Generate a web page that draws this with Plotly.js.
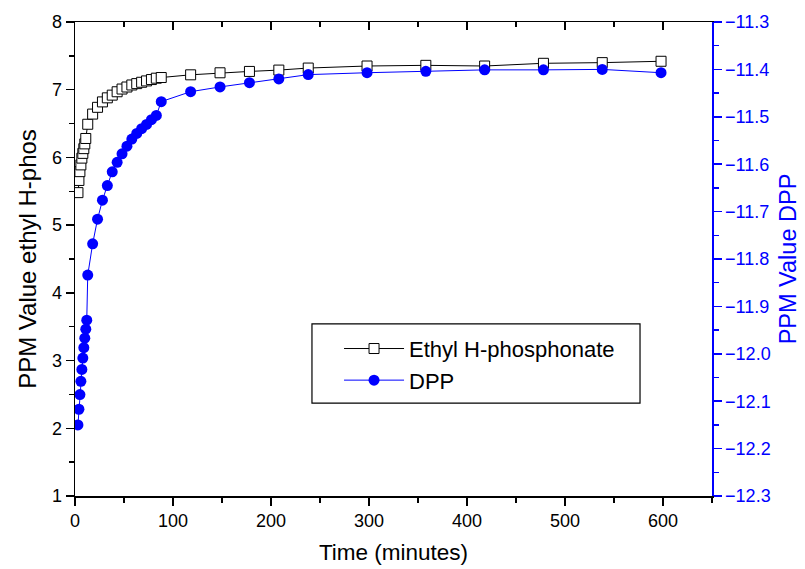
<!DOCTYPE html>
<html>
<head>
<meta charset="utf-8">
<script src="https://cdn.plot.ly/plotly-3.0.1.min.js"></script>
<style>html,body{margin:0;padding:0;background:#fff;}#chart{width:805px;height:569px;}</style>
</head>
<body>
<div id="chart"></div>
<script>
// Ethyl H-phosphonate (left axis)
const ethylTime = [3,4,5,6,7,8,9,10,11,13,18,23,28,33,38,43,48,53,58,63,68,73,78,83,88,118,148,178,208,238,298,358,418,478,538,598];
const ethylPPM  = [5.48,5.66,5.79,5.89,5.99,6.06,6.13,6.20,6.28,6.49,6.64,6.74,6.82,6.88,6.92,6.97,7.01,7.04,7.07,7.09,7.11,7.13,7.15,7.17,7.18,7.22,7.25,7.27,7.29,7.32,7.35,7.36,7.35,7.39,7.40,7.42];
// DPP (right axis)
const dppTime = [3,4,5,6,7,8,9,10,11,12,13,18,23,28,33,38,43,48,53,58,63,68,73,78,83,88,118,148,178,208,238,298,358,418,478,538,598];
const dppPPM  = [-12.150,-12.117,-12.086,-12.058,-12.033,-12.009,-11.987,-11.967,-11.948,-11.929,-11.834,-11.768,-11.716,-11.676,-11.645,-11.616,-11.596,-11.578,-11.562,-11.547,-11.535,-11.525,-11.516,-11.506,-11.497,-11.468,-11.447,-11.437,-11.428,-11.420,-11.411,-11.407,-11.404,-11.401,-11.401,-11.400,-11.407];

const FONT = 'Arial, "Liberation Sans", sans-serif';

const traces = [
  {
    x: ethylTime, y: ethylPPM, name: 'Ethyl H-phosphonate', type: 'scatter', mode: 'lines+markers',
    xaxis: 'x', yaxis: 'y',
    line: {color: '#000000', width: 1},
    marker: {symbol: 'square', size: 10, color: '#ffffff', line: {color: '#000000', width: 1}}
  },
  {
    x: dppTime, y: dppPPM, name: 'DPP', type: 'scatter', mode: 'lines+markers',
    xaxis: 'x', yaxis: 'y2',
    line: {color: '#0000ff', width: 1},
    marker: {symbol: 'circle', size: 11, color: '#0000ff', line: {width: 0}}
  },
  // invisible trace to activate the top mirror axis with inward ticks
  {x: [0], y: [1], xaxis: 'x2', yaxis: 'y', mode: 'markers', marker: {opacity: 0}, showlegend: false, hoverinfo: 'skip'}
];

const layout = {
  width: 805, height: 569,
  margin: {l: 75, r: 93, t: 22, b: 73},
  paper_bgcolor: '#ffffff', plot_bgcolor: '#ffffff',
  font: {family: FONT, size: 18, color: '#000000'},
  showlegend: true,
  legend: {
    x: 0.4145, y: 0.355, xanchor: 'left', yanchor: 'top',
    bgcolor: 'rgba(0,0,0,0)', borderwidth: 0,
    font: {family: FONT, size: 22, color: '#000000'},
    itemwidth: 60, tracegroupgap: 0
  },
  shapes: [
    {type: 'rect', xref: 'paper', yref: 'paper', x0: 0.372, x1: 0.887, y0: 0.196, y1: 0.363,
     line: {color: '#000000', width: 1.2}, fillcolor: '#ffffff', layer: 'above'}
  ],
  xaxis: {
    range: [0, 650], dtick: 100, tick0: 0,
    showgrid: false, zeroline: false,
    showline: true, linecolor: '#000000', linewidth: 1.5,
    ticks: 'outside', ticklen: 8, tickwidth: 1.5, tickcolor: '#000000',
    minor: {dtick: 50, ticks: 'outside', ticklen: 5, tickwidth: 1.5, tickcolor: '#000000'},
    tickfont: {size: 18},
    title: {text: 'Time (minutes)', font: {size: 22.5}, standoff: 14}
  },
  xaxis2: {
    overlaying: 'x', side: 'top', range: [0, 650], dtick: 100, tick0: 0,
    showgrid: false, zeroline: false, showticklabels: false,
    showline: true, linecolor: '#000000', linewidth: 1.5,
    ticks: 'inside', ticklen: 8, tickwidth: 1.5, tickcolor: '#000000',
    minor: {dtick: 50, ticks: 'inside', ticklen: 5, tickwidth: 1.5, tickcolor: '#000000'}
  },
  yaxis: {
    range: [1, 8], dtick: 1, tick0: 0,
    showgrid: false, zeroline: false,
    showline: true, linecolor: '#000000', linewidth: 1.5,
    ticks: 'outside', ticklen: 8, tickwidth: 1.5, tickcolor: '#000000',
    minor: {dtick: 0.5, ticks: 'outside', ticklen: 5, tickwidth: 1.5, tickcolor: '#000000'},
    tickfont: {size: 18},
    title: {text: 'PPM Value ethyl H-phos', font: {size: 24}, standoff: 8}
  },
  yaxis2: {
    overlaying: 'y', side: 'right', anchor: 'x',
    range: [-12.3, -11.3], dtick: 0.1, tick0: -12.3, tickformat: '.1f',
    showgrid: false, zeroline: false,
    showline: true, linecolor: '#0000ff', linewidth: 1.5,
    ticks: 'outside', ticklen: 8, tickwidth: 1.5, tickcolor: '#0000ff',
    minor: {dtick: 0.05, ticks: 'outside', ticklen: 5, tickwidth: 1.5, tickcolor: '#0000ff'},
    tickfont: {size: 18, color: '#0000ff'},
    title: {text: 'PPM Value DPP', font: {size: 23.5, color: '#0000ff'}, standoff: 10}
  }
};

Plotly.newPlot('chart', traces, layout, {staticPlot: true, displayModeBar: false});
</script>
</body>
</html>
